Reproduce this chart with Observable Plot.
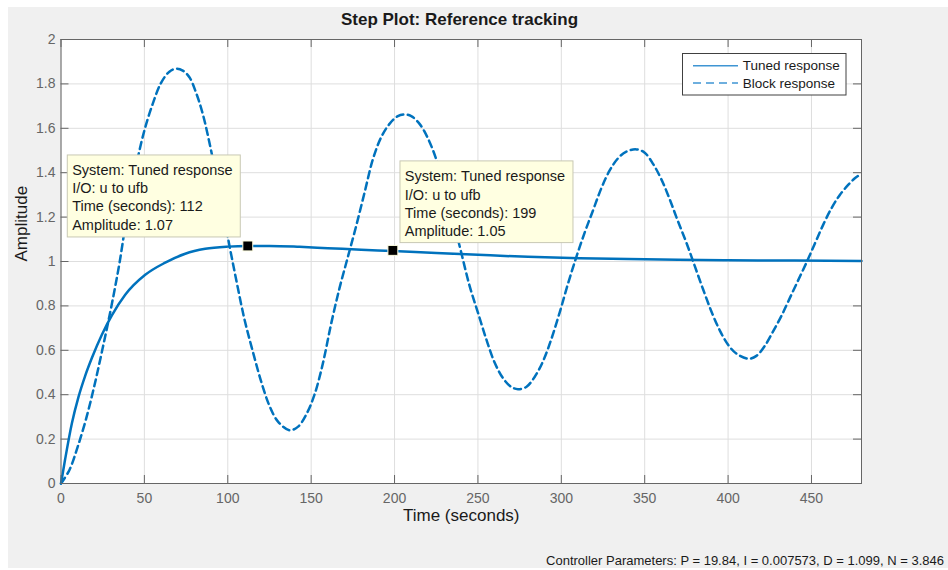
<!DOCTYPE html>
<html>
<head>
<meta charset="utf-8">
<script src="https://cdn.jsdelivr.net/npm/d3@7"></script>
<script src="https://cdn.jsdelivr.net/npm/@observablehq/plot@0.6"></script>
<style>
  html, body { margin: 0; padding: 0; background: #ffffff; }
  #wrap { position: absolute; left: 8px; top: 7px; width: 940px; height: 561px; background: #f0f0f0;
          font-family: "Liberation Sans", Arial, Helvetica, sans-serif; overflow: hidden; }
  #title { position: absolute; left: 0; top: 3px; width: 903px; text-align: center; font-size: 17px;
           line-height: 20px; font-weight: bold; color: #1a1a1a; }
  #chart { position: absolute; left: 0; top: 25px; }
  #caption { position: absolute; right: 4px; top: 546px; font-size: 13px; line-height: 16px; color: #1a1a1a; white-space: nowrap; }
  #legend { position: absolute; left: 674px; top: 46px; }
</style>
</head>
<body>
<div id="wrap">
  <div id="title"></div>
  <div id="chart"></div>
  <div id="caption"></div>
</div>
<script>
// ---------- data ----------
const chartTitle = "Step Plot: Reference tracking";
const xLabel = "Time (seconds)";
const yLabel = "Amplitude";
const captionText = "Controller Parameters: P = 19.84, I = 0.007573, D = 1.099, N = 3.846";

const xTicks = [0, 50, 100, 150, 200, 250, 300, 350, 400, 450];
const yTicks = [0, 0.2, 0.4, 0.6, 0.8, 1, 1.2, 1.4, 1.6, 1.8, 2];

const seriesNames = ["Tuned response", "Block response"];

// Tuned response (solid)
const tunedT = [0, 2.5, 6.5, 10.5, 14.5, 18.5, 24.5, 30.5, 38.5, 50.5, 62.5, 74.5, 86.5, 100,
                112, 125, 143, 160, 180, 199, 225, 250, 280, 311, 340, 370, 400, 440, 480];
const tunedY = [0, 0.11, 0.27, 0.39, 0.485, 0.565, 0.67, 0.757, 0.85, 0.94, 0.995, 1.035, 1.057, 1.067,
                1.07, 1.07, 1.066, 1.06, 1.053, 1.047, 1.038, 1.03, 1.021, 1.015, 1.011, 1.008, 1.006, 1.004, 1.002];

// Block response (dashed)
const blockT = [0, 5, 10, 15, 20, 25, 30, 35, 40, 45, 50, 55, 60, 65, 69, 73, 77, 81, 85, 90,
                95, 100, 105, 110, 115, 120, 125, 130, 137, 142, 147, 152, 157, 162, 167, 172, 177, 182, 187, 192,
                197, 202, 206, 210, 215, 220, 225, 230, 235, 240, 245, 250, 255, 260, 265, 270, 274, 279, 284, 289,
                294, 299, 304, 309, 314, 319, 324, 329, 334, 339, 345, 350, 355, 360, 365, 370, 375, 380, 385, 390,
                395, 400, 405, 412, 417, 422, 427, 432, 437, 442, 447, 452, 457, 462, 467, 472, 476, 480];
const blockY = [0, 0.06, 0.165, 0.29, 0.44, 0.61, 0.79, 0.99, 1.23, 1.43, 1.59, 1.71, 1.805, 1.855, 1.868, 1.86, 1.83, 1.76, 1.665, 1.50,
                1.31, 1.11, 0.92, 0.74, 0.595, 0.46, 0.35, 0.28, 0.24, 0.255, 0.31, 0.40, 0.54, 0.72, 0.88, 1.02, 1.16, 1.31, 1.46, 1.56,
                1.62, 1.655, 1.662, 1.655, 1.62, 1.555, 1.46, 1.32, 1.19, 1.04, 0.89, 0.77, 0.65, 0.545, 0.475, 0.435, 0.425, 0.435, 0.48, 0.55,
                0.65, 0.77, 0.90, 1.02, 1.13, 1.23, 1.33, 1.41, 1.465, 1.495, 1.505, 1.49, 1.44, 1.37, 1.28, 1.18, 1.085, 0.98, 0.875, 0.775,
                0.69, 0.625, 0.585, 0.562, 0.575, 0.62, 0.685, 0.755, 0.835, 0.915, 0.995, 1.08, 1.165, 1.24, 1.30, 1.345, 1.375, 1.395];

// Data tips
const tipT = [112, 199];
const tipAmp = [1.07, 1.05];
const tipSystem = ["Tuned response", "Tuned response"];
const tipIO = ["u to ufb", "u to ufb"];
const tipSide = ["left", "right"];

// ---------- build ----------
const tuned = tunedT.map((t, i) => ({t, y: tunedY[i]}));
const block = blockT.map((t, i) => ({t, y: blockY[i]}));
const tips = tipT.map((t, i) => ({t, amp: tipAmp[i], system: tipSystem[i], io: tipIO[i], side: tipSide[i]}));
const tipsL = tips.filter(d => d.side === "left");
const tipsR = tips.filter(d => d.side === "right");
const tipText = d => `System: ${d.system}\nI/O: ${d.io}\nTime (seconds): ${d.t}\nAmplitude: ${d.amp.toFixed(2)}`;

const BLUE = "#0072BD";
const AXIS = "#666666";
const GRID = "#dedede";
const TIPFILL = "#ffffe1";
const TIPSTROKE = "#c8c8b4";
const FONT = "Liberation Sans, Arial, Helvetica, sans-serif";

document.getElementById("title").textContent = chartTitle;
document.getElementById("caption").textContent = captionText;

const plotW = 940, plotH = 513;
const mL = 52.5, mR = 87, mT = 7, mB = 62;
const innerW = plotW - mL - mR, innerH = plotH - mT - mB;
const tick = 8;

const chart = Plot.plot({
  width: plotW,
  height: plotH,
  marginLeft: mL, marginRight: mR, marginTop: mT, marginBottom: mB,
  x: {domain: [0, 480]},
  y: {domain: [0, 2]},
  style: {background: "transparent", fontFamily: FONT, overflow: "visible"},
  marks: [
    Plot.frame({fill: "white", stroke: "none"}),
    Plot.gridX(xTicks, {stroke: GRID, strokeOpacity: 1}),
    Plot.gridY(yTicks, {stroke: GRID, strokeOpacity: 1}),
    // inward ticks on all four sides
    Plot.ruleX(xTicks, {x: d => d, insetTop: innerH - tick, stroke: AXIS}),
    Plot.ruleX(xTicks, {x: d => d, insetBottom: innerH - tick, stroke: AXIS}),
    Plot.ruleY(yTicks, {y: d => d, insetRight: innerW - tick, stroke: AXIS}),
    Plot.ruleY(yTicks, {y: d => d, insetLeft: innerW - tick, stroke: AXIS}),
    Plot.axisX(xTicks, {tickSize: 0, tickPadding: 10, fontSize: 14, color: AXIS, label: null, tickFormat: d => String(d)}),
    Plot.axisY(yTicks, {tickSize: 0, tickPadding: 5.5, fontSize: 14, color: AXIS, label: null, tickFormat: d => String(d)}),
    Plot.line(block, {x: "t", y: "y", stroke: BLUE, strokeWidth: 2.5, strokeDasharray: "7,4.5", curve: "catmull-rom"}),
    Plot.line(tuned, {x: "t", y: "y", stroke: BLUE, strokeWidth: 2.5, curve: "monotone-x"}),
    Plot.frame({stroke: AXIS, strokeWidth: 1}),
    // axis labels
    Plot.text([xLabel], {text: d => d, frameAnchor: "bottom", dy: 37, fontSize: 17, fill: "#1a1a1a"}),
    Plot.text([yLabel], {text: d => d, frameAnchor: "left", dx: -39, rotate: -90, fontSize: 17, fill: "#1a1a1a"}),
    // data tips
    Plot.rect(tipsL, {x1: "t", x2: "t", y1: "amp", y2: "amp", insetLeft: -180, insetRight: 7, insetTop: -90.5, insetBottom: 8.5,
                      fill: TIPFILL, stroke: TIPSTROKE, strokeWidth: 1}),
    Plot.rect(tipsR, {x1: "t", x2: "t", y1: "amp", y2: "amp", insetLeft: 7.6, insetRight: -180.6, insetTop: -89, insetBottom: 7.3,
                      fill: TIPFILL, stroke: TIPSTROKE, strokeWidth: 1}),
    Plot.text(tipsL, {x: "t", y: "amp", text: tipText, textAnchor: "start", lineAnchor: "middle", lineHeight: 1.26,
                      dx: -175.6, dy: -49.7, fontSize: 14.5, fill: "#1a1a1a"}),
    Plot.text(tipsR, {x: "t", y: "amp", text: tipText, textAnchor: "start", lineAnchor: "middle", lineHeight: 1.26,
                      dx: 11.9, dy: -47.4, fontSize: 14.5, fill: "#1a1a1a"}),
    Plot.dot(tips, {x: "t", y: "amp", symbol: "square", r: 5.6, fill: "black", stroke: TIPFILL, strokeWidth: 1})
  ]
});
document.getElementById("chart").appendChild(chart);

// ---------- legend ----------
const legendDash = [null, "8,5"];
const leg = d3.select("#wrap").append("svg")
  .attr("id", "legend").attr("width", 166).attr("height", 44);
leg.append("rect").attr("x", 0.5).attr("y", 0.5).attr("width", 163.5).attr("height", 41.5)
  .attr("fill", "white").attr("stroke", "#404040").attr("stroke-width", 1);
seriesNames.forEach((name, i) => {
  const cy = 12.7 + i * 17.3;
  const ln = leg.append("line").attr("x1", 11).attr("x2", 56).attr("y1", cy).attr("y2", cy)
    .attr("stroke", "#3f95d3").attr("stroke-width", 1.6);
  if (legendDash[i]) ln.attr("stroke-dasharray", legendDash[i]);
  leg.append("text").attr("x", 60.7).attr("y", cy).attr("dy", "0.35em")
    .attr("font-size", 13.5).attr("fill", "#1a1a1a").attr("font-family", FONT).text(name);
});
</script>
</body>
</html>
